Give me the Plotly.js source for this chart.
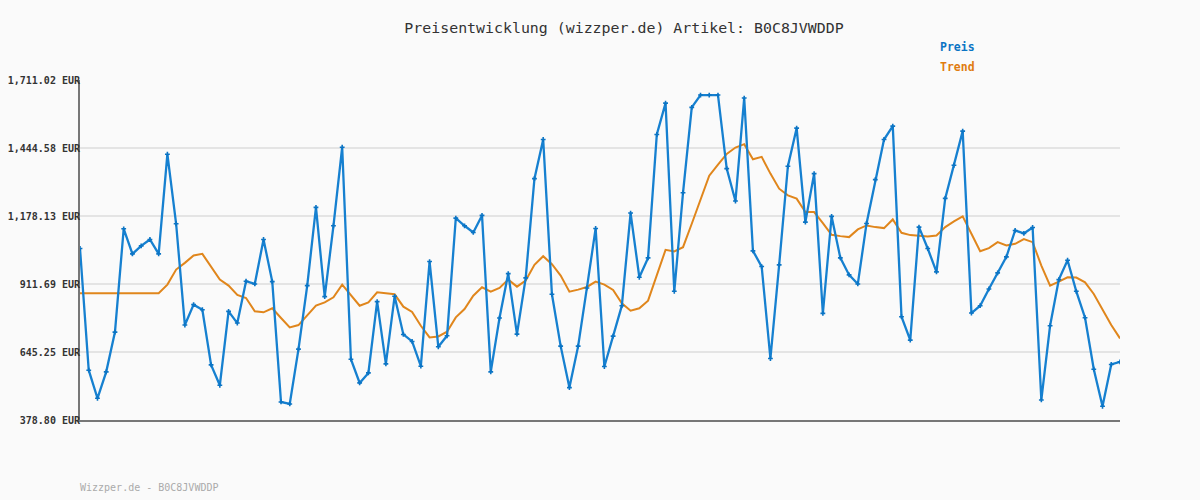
<!DOCTYPE html>
<html>
<head>
<meta charset="utf-8">
<script src="https://cdn.plot.ly/plotly-3.0.1.min.js"></script>
<style>
html,body{margin:0;padding:0;background:#fafafa;}
#chart{width:1200px;height:500px;}
</style>
</head>
<body>
<div id="chart"></div>
<script>
// Price series (EUR)
const preis = [
1050.8, 573.9, 463.9, 567.4, 723.3, 1128.0, 1029.8, 1061.2, 1086.1, 1029.8,
1420.2, 1147.7, 750.8, 830.7, 811.0, 594.9, 515.0, 804.5, 758.6, 922.4,
911.9, 1086.1, 921.1, 449.5, 441.6, 656.4, 905.3, 1211.9, 862.1, 1139.8,
1447.7, 617.1, 524.1, 563.4, 842.5, 598.8, 863.4, 714.1, 686.6, 589.6,
999.7, 665.6, 708.8, 1170.0, 1139.8, 1113.6, 1180.4, 567.4, 778.3, 952.5,
715.4, 935.5, 1324.5, 1477.8, 871.3, 668.2, 505.8, 668.2, 896.2, 1129.4,
588.3, 707.5, 826.7, 1189.6, 938.1, 1014.1, 1497.5, 1620.6, 883.1, 1269.5,
1603.6, 1652.0, 1652.0, 1652.0, 1363.8, 1236.8, 1640.3, 1041.6, 980.0, 619.8,
986.6, 1373.0, 1522.4, 1154.2, 1344.2, 796.6, 1176.5, 1014.1, 947.3, 911.9,
1149.0, 1320.6, 1477.8, 1530.2, 783.5, 691.8, 1134.6, 1050.8, 959.1, 1247.3,
1377.0, 1510.6, 797.9, 826.7, 892.2, 955.1, 1018.0, 1121.5, 1109.7, 1133.3,
457.3, 748.1, 928.9, 1004.9, 883.1, 779.6, 577.8, 432.4, 596.2, 606.7
];
// Trend series (EUR)
const trend = [
875.2, 875.2, 875.2, 875.2, 875.2, 875.2, 875.2, 875.2, 875.2, 875.2,
909.3, 968.2, 994.4, 1023.2, 1029.8, 977.4, 928.9, 905.3, 868.7, 856.9,
804.5, 800.6, 816.3, 778.3, 741.6, 750.8, 787.4, 826.7, 839.8, 859.5,
909.3, 866.0, 826.7, 839.8, 879.1, 875.2, 871.3, 822.8, 801.9, 748.1,
702.3, 706.2, 724.6, 780.9, 813.6, 866.0, 898.8, 881.8, 896.2, 928.9,
901.4, 925.0, 986.6, 1020.6, 989.2, 944.6, 881.8, 889.6, 900.1, 921.1,
909.3, 888.3, 835.9, 807.1, 816.3, 846.4, 944.6, 1045.5, 1039.0, 1056.0,
1147.7, 1246.0, 1336.0, 1379.6, 1421.5, 1446.4, 1459.5, 1400.5, 1409.7, 1344.2,
1285.2, 1259.0, 1246.0, 1193.5, 1193.5, 1150.3, 1104.5, 1099.3, 1095.4, 1125.4,
1141.2, 1134.6, 1130.7, 1164.7, 1112.3, 1103.2, 1099.3, 1098.0, 1101.9, 1134.6,
1156.9, 1176.5, 1108.4, 1040.3, 1052.1, 1075.6, 1062.6, 1069.1, 1087.4, 1075.6,
983.9, 905.3, 921.1, 938.1, 936.8, 918.4, 872.6, 811.0, 750.8, 698.4
];
const tickVals = [378.80, 645.25, 911.69, 1178.13, 1444.58, 1711.02];
const tickText = ["378.80 EUR", "645.25 EUR", "911.69 EUR", "1,178.13 EUR", "1,444.58 EUR", "1,711.02 EUR"];
const idx = preis.map((_, i) => i);

const mono = "DejaVu Sans Mono, Liberation Mono, monospace";

const data = [
  {
    x: idx, y: trend, type: 'scatter', mode: 'lines', name: 'Trend',
    line: {color: '#e0861c', width: 2}, hoverinfo: 'skip'
  },
  {
    x: idx, y: preis, type: 'scatter', mode: 'lines+markers', name: 'Preis',
    line: {color: '#1680d0', width: 2.3},
    marker: {symbol: 'cross', size: 4, color: '#0b74c4'}
  }
];

const pw = 1040, ph = 340;
function px(x){ return (x - 80) / pw; }
function py(y){ return (420 - y) / ph; }

const layout = {
  width: 1200, height: 500,
  paper_bgcolor: '#fafafa', plot_bgcolor: '#fafafa',
  margin: {l: 80, r: 80, t: 80, b: 80},
  showlegend: false,
  title: {
    text: 'Preisentwicklung (wizzper.de) Artikel: B0C8JVWDDP',
    font: {family: mono, size: 14.9, color: '#333333'},
    x: 0.52, xref: 'container', xanchor: 'center',
    y: 1 - 28/500, yref: 'container', yanchor: 'middle'
  },
  xaxis: {
    range: [0, preis.length - 1],
    showgrid: false, zeroline: false, showticklabels: false, ticks: '',
    showline: true, linecolor: '#777777', linewidth: 2
  },
  yaxis: {
    range: [378.80, 1711.02],
    tickvals: tickVals, ticktext: tickText,
    tickfont: {family: mono, size: 10, color: '#333333', weight: 'bold'},
    showgrid: true, gridcolor: '#e4e4e4', gridwidth: 2,
    zeroline: false, ticks: '',
    showline: true, linecolor: '#777777', linewidth: 2,
    ticklabelstandoff: -4
  },
  annotations: [
    {text: '<b>Preis</b>', xref: 'paper', yref: 'paper', x: px(938), y: py(47), xanchor: 'left', yanchor: 'middle',
     showarrow: false, font: {family: mono, size: 11.5, color: '#0b74c4'}},
    {text: '<b>Trend</b>', xref: 'paper', yref: 'paper', x: px(938), y: py(67), xanchor: 'left', yanchor: 'middle',
     showarrow: false, font: {family: mono, size: 11.5, color: '#e07c10'}},
    {text: 'Wizzper.de - B0C8JVWDDP', xref: 'paper', yref: 'paper', x: px(78), y: py(487), xanchor: 'left', yanchor: 'middle',
     showarrow: false, font: {family: mono, size: 10, color: '#aaaaaa'}}
  ]
};

Plotly.newPlot('chart', data, layout, {displayModeBar: false, staticPlot: true});
</script>
</body>
</html>
